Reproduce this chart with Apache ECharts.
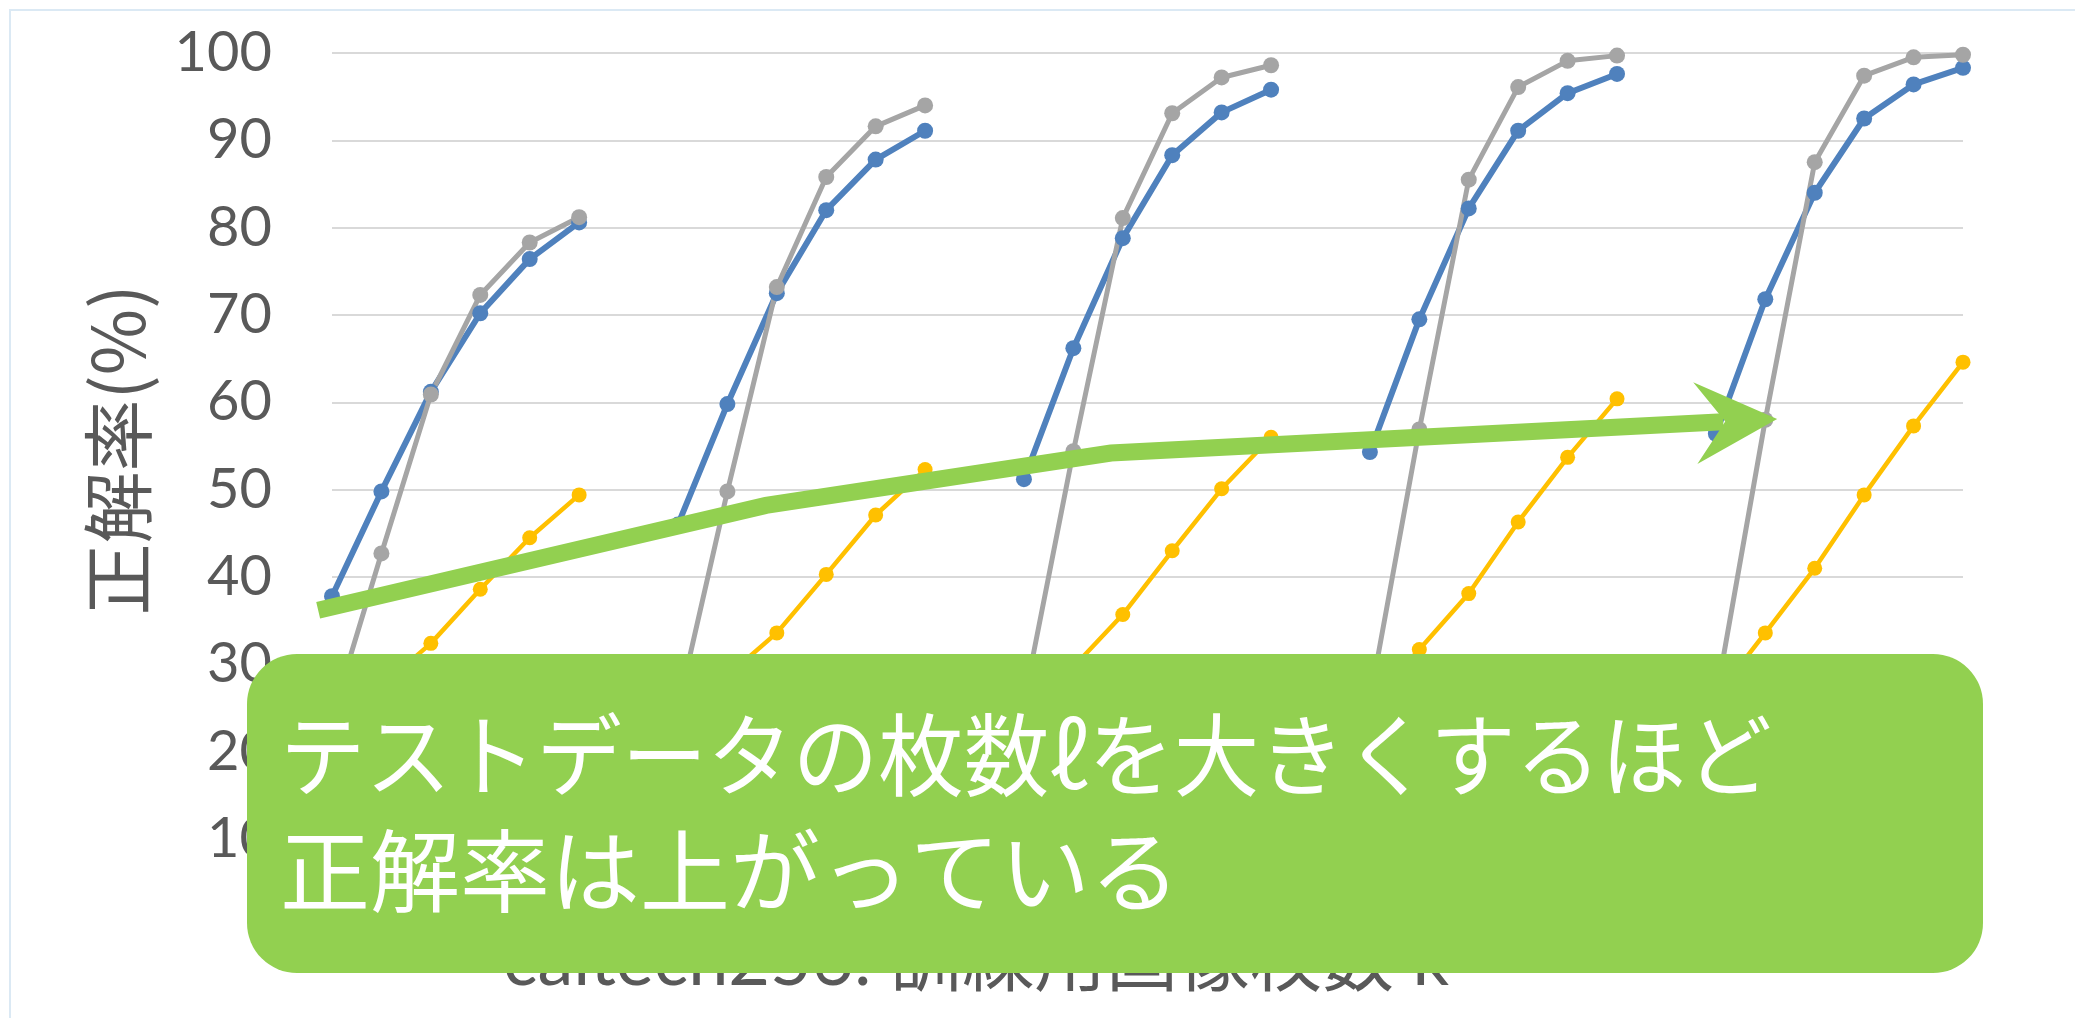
<!DOCTYPE html>
<html><head><meta charset="utf-8">
<script src="https://cdn.jsdelivr.net/npm/echarts@6/dist/echarts.min.js"></script>
<style>html,body{margin:0;padding:0;background:#fff;overflow:hidden}#c{width:2075px;height:1018px}</style>
</head><body><div id="c"></div>
<script>
// x categories: k = training images per class, 5 groups (test count ℓ grows group by group)
const categories = ['5','10','15','20','25','30','',
                    '5','10','15','20','25','30','',
                    '5','10','15','20','25','30','',
                    '5','10','15','20','25','30','',
                    '5','10','15','20','25','30'];
const yTicks = [10,20,30,40,50,60,70,80,90,100];
const blueVals = [37.8,49.8,61.2,70.2,76.4,80.6,null,
                  46.0,59.8,72.5,82.0,87.8,91.1,null,
                  51.2,66.2,78.8,88.3,93.2,95.8,null,
                  54.3,69.5,82.2,91.1,95.4,97.6,null,
                  56.4,71.8,84.0,92.5,96.4,98.3];
const grayVals = [24.0,42.7,60.9,72.3,78.3,81.2,null,
                  25.0,49.8,73.2,85.8,91.6,94.0,null,
                  25.7,54.4,81.1,93.1,97.2,98.6,null,
                  25.9,56.9,85.5,96.1,99.1,99.7,null,
                  26.0,58.0,87.5,97.4,99.5,99.8];
const yellowVals = [22.5,27.5,32.4,38.6,44.5,49.4,null,
                    24.0,28.7,33.6,40.3,47.1,52.3,null,
                    24.0,29.7,35.7,43.0,50.1,56.0,null,
                    25.5,31.7,38.1,46.3,53.7,60.4,null,
                    26.3,33.6,41.0,49.4,57.3,64.6];
// annotation arrow path in data coordinates [category index, value]
const arrowPath = [[-0.28,36.2],[8.78,48.2],[15.76,54.2],[29.24,58.1]];
const xTitle = 'caltech256: 訓練用画像枚数 k';
const yTitle = '正解率(%)';
const noteLine1 = 'テストデータの枚数ℓを大きくするほど';
const noteLine2 = '正解率は上がっている';

const LATIN = 'Lato, "Noto Sans CJK JP", sans-serif';
const CJK = '"Noto Sans CJK JP", sans-serif';
const chart = echarts.init(document.getElementById('c'), null, {renderer:'canvas'});

function mk(name, vals, color, w, size){
  return {name, type:'line', data: vals.map((v,i)=>[i,v]), connectNulls:false,
    symbol:'circle', symbolSize:size, showSymbol:true,
    lineStyle:{color, width:w}, itemStyle:{color}, animation:false};
}
chart.setOption({
  animation:false,
  grid:{left:332,right:112,top:53,bottom:179,containLabel:false,outerBoundsMode:'none'},
  xAxis:{type:'value',min:0,max:categories.length-1,interval:1,
    axisLabel:{formatter:v=>categories[v]||'',margin:44,fontSize:46,color:'#595959',fontFamily:LATIN},
    splitLine:{show:false},axisTick:{show:false},
    axisLine:{lineStyle:{color:'#d9d9d9',width:2}}},
  yAxis:{type:'value',min:yTicks[0],max:yTicks[yTicks.length-1],interval:10,
    axisLabel:{fontSize:56,color:'#595959',margin:60,fontFamily:LATIN},
    splitLine:{lineStyle:{color:'#d9d9d9',width:2}},
    axisLine:{show:false},axisTick:{show:false}},
  series:[
    mk('blue',blueVals,'#4F81BD',6,16),
    mk('gray',grayVals,'#A5A5A5',5,16),
    mk('yellow',yellowVals,'#FFC000',4.5,15)
  ]
});

// arrow geometry from data coordinates
const px = arrowPath.map(p=>chart.convertToPixel({gridIndex:0},p));
const tip = px[px.length-1], prev = px[px.length-2];
let dx = tip[0]-prev[0], dy = tip[1]-prev[1];
const len = Math.hypot(dx,dy); dx/=len; dy/=len;
const nx = -dy, ny = dx;
const HL = 82, HW = 41, NOTCH = 52;
const notch = [tip[0]-NOTCH*dx, tip[1]-NOTCH*dy];
const wingA = [tip[0]-HL*dx+HW*nx, tip[1]-HL*dy+HW*ny];
const wingB = [tip[0]-HL*dx-HW*nx, tip[1]-HL*dy-HW*ny];
const shaft = px.slice(0,-1).concat([[notch[0]-2*dx, notch[1]-2*dy]]);

// fit note lines to the reference widths
const cv = document.createElement('canvas').getContext('2d');
cv.font = '90px "Noto Sans CJK JP"';
const w1 = cv.measureText(noteLine1).width, w2 = cv.measureText(noteLine2).width;
const s1 = Math.min(1, 1492 / w1), s2 = Math.min(1, 915 / w2);

chart.setOption({graphic:[
  {type:'rect',silent:true,z:0,shape:{x:10,y:10,width:2100,height:1040},
   style:{fill:'transparent',stroke:'#dbe9f4',lineWidth:2}},
  {type:'polyline',silent:true,z:50,shape:{points:shaft},
   style:{stroke:'#92D050',lineWidth:17,fill:null,lineJoin:'miter',lineCap:'butt'}},
  {type:'polygon',silent:true,z:50,shape:{points:[tip,wingA,notch,wingB]},
   style:{fill:'#92D050'}},
  {type:'text',silent:true,z:40,x:118,y:450,rotation:Math.PI/2,
   style:{text:yTitle,fontSize:72,fontFamily:CJK,fill:'#595959',align:'center',verticalAlign:'middle'}},
  {type:'text',silent:true,z:40,x:503,y:962,
   style:{text:xTitle,fontSize:72,fontFamily:LATIN,fill:'#595959',align:'left',verticalAlign:'middle'}},
  {type:'rect',silent:true,z:60,shape:{x:247,y:654,width:1736,height:319,r:50},
   style:{fill:'#92D050'}},
  {type:'text',silent:true,z:61,x:280,y:755,scaleX:s1,
   style:{text:noteLine1,fontSize:90,fontFamily:CJK,fill:'#ffffff',align:'left',verticalAlign:'middle'}},
  {type:'text',silent:true,z:61,x:280,y:871,scaleX:s2,
   style:{text:noteLine2,fontSize:90,fontFamily:CJK,fill:'#ffffff',align:'left',verticalAlign:'middle'}}
]});
</script></body></html>
